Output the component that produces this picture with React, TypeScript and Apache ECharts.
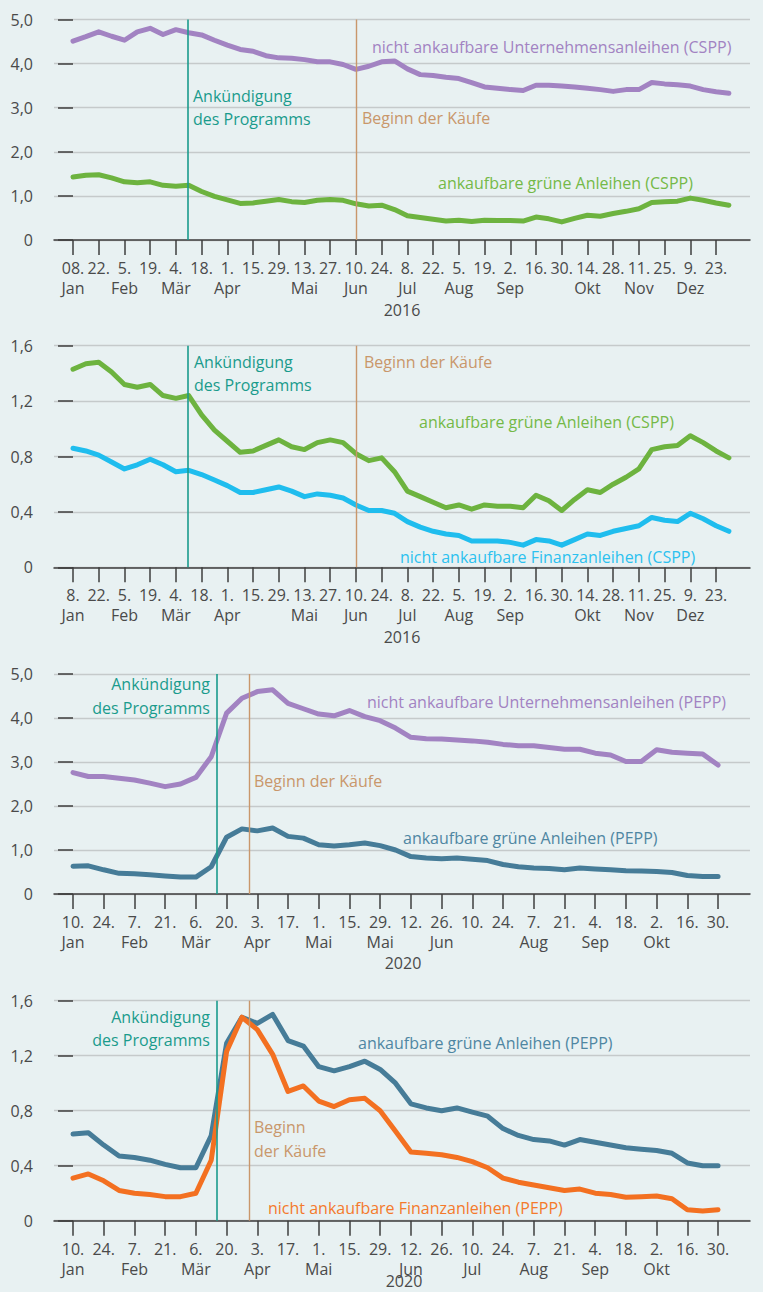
import React, { useEffect, useRef } from "react";
import * as echarts from "echarts";

// ---------- DATA ----------
// 2016: weekly observations, 8 Jan – 30 Dec (52 weeks)
const cspPurple = [4.51, 4.61, 4.72, 4.62, 4.53, 4.72, 4.80, 4.66, 4.77, 4.70, 4.65, 4.53, 4.42, 4.32, 4.28, 4.18, 4.13, 4.12, 4.09, 4.04, 4.04, 3.98, 3.87, 3.94, 4.04, 4.06, 3.88, 3.75, 3.73, 3.69, 3.66, 3.57, 3.47, 3.44, 3.41, 3.39, 3.51, 3.51, 3.49, 3.47, 3.44, 3.41, 3.37, 3.41, 3.41, 3.57, 3.54, 3.52, 3.49, 3.41, 3.36, 3.33];
const cspGreen = [1.43, 1.47, 1.48, 1.41, 1.32, 1.30, 1.32, 1.24, 1.22, 1.24, 1.10, 0.99, 0.91, 0.83, 0.84, 0.88, 0.92, 0.87, 0.85, 0.90, 0.92, 0.90, 0.82, 0.77, 0.79, 0.69, 0.55, 0.51, 0.47, 0.43, 0.45, 0.42, 0.45, 0.44, 0.44, 0.43, 0.52, 0.48, 0.41, 0.49, 0.56, 0.54, 0.60, 0.65, 0.71, 0.85, 0.87, 0.88, 0.95, 0.90, 0.84, 0.79];
const cspCyan = [0.86, 0.84, 0.81, 0.76, 0.71, 0.74, 0.78, 0.74, 0.69, 0.70, 0.67, 0.63, 0.59, 0.54, 0.54, 0.56, 0.58, 0.55, 0.51, 0.53, 0.52, 0.50, 0.45, 0.41, 0.41, 0.39, 0.33, 0.29, 0.26, 0.24, 0.23, 0.19, 0.19, 0.19, 0.18, 0.16, 0.20, 0.19, 0.16, 0.20, 0.24, 0.23, 0.26, 0.28, 0.30, 0.36, 0.34, 0.33, 0.39, 0.35, 0.30, 0.26];

// 2020: weekly observations, 10 Jan – 30 Oct (43 weeks)
const peppPurple = [2.76, 2.67, 2.67, 2.63, 2.59, 2.52, 2.44, 2.50, 2.65, 3.12, 4.11, 4.45, 4.60, 4.64, 4.33, 4.21, 4.09, 4.05, 4.17, 4.03, 3.94, 3.77, 3.56, 3.53, 3.52, 3.50, 3.48, 3.45, 3.40, 3.37, 3.37, 3.33, 3.29, 3.29, 3.20, 3.16, 3.01, 3.01, 3.28, 3.22, 3.20, 3.18, 2.93];
const peppTeal = [0.63, 0.64, 0.55, 0.47, 0.46, 0.44, 0.41, 0.385, 0.385, 0.62, 1.29, 1.48, 1.435, 1.50, 1.31, 1.27, 1.12, 1.09, 1.12, 1.16, 1.10, 1.00, 0.85, 0.82, 0.80, 0.82, 0.79, 0.76, 0.67, 0.62, 0.59, 0.58, 0.55, 0.59, 0.57, 0.55, 0.53, 0.52, 0.51, 0.49, 0.42, 0.40, 0.40];
const peppOrange = [0.31, 0.34, 0.29, 0.22, 0.20, 0.19, 0.175, 0.175, 0.20, 0.44, 1.23, 1.48, 1.39, 1.21, 0.94, 0.98, 0.87, 0.83, 0.88, 0.89, 0.80, 0.65, 0.50, 0.49, 0.48, 0.46, 0.43, 0.385, 0.31, 0.28, 0.26, 0.24, 0.22, 0.23, 0.20, 0.19, 0.17, 0.175, 0.18, 0.16, 0.08, 0.07, 0.08];

// tick labels (every two weeks)
const days2016a = ["08.", "22.", "5.", "19.", "4.", "18.", "1.", "15.", "29.", "13.", "27.", "10.", "24.", "8.", "22.", "5.", "19.", "2.", "16.", "30.", "14.", "28.", "11.", "25.", "9.", "23."];
const days2016b = ["8.", "22.", "5.", "19.", "4.", "18.", "1.", "15.", "29.", "13.", "27.", "10.", "24.", "8.", "22.", "5.", "19.", "2.", "16.", "30.", "14.", "28.", "11.", "25.", "9.", "23."];
const months2016 = ["Jan", "", "Feb", "", "Mär", "", "Apr", "", "", "Mai", "", "Jun", "", "Jul", "", "Aug", "", "Sep", "", "", "Okt", "", "Nov", "", "Dez", ""];
const days2020 = ["10.", "24.", "7.", "21.", "6.", "20.", "3.", "17.", "1.", "15.", "29.", "12.", "26.", "10.", "24.", "7.", "21.", "4.", "18.", "2.", "16.", "30."];
const months2020a = ["Jan", "", "Feb", "", "Mär", "", "Apr", "", "Mai", "", "Mai", "", "Jun", "", "", "Aug", "", "Sep", "", "Okt", "", ""];
const months2020b = ["Jan", "", "Feb", "", "Mär", "", "Apr", "", "Mai", "", "", "Jun", "", "Jul", "", "Aug", "", "Sep", "", "Okt", "", ""];

// event positions in weeks from first observation
const announce2016 = 8.89;
const start2016 = 22.0;
const announce2020 = 9.36;
const start2020 = 11.48;

// ---------- STYLE ----------
const FONT = '"Open Sans", "Noto Sans", sans-serif';
const BG = "#e8f1f2";
const C_PURPLE = "#a283c2";
const C_GREEN = "#6db33f";
const C_CYAN = "#1fbdee";
const C_TEAL = "#467c98";
const C_ORANGE = "#f37021";
const C_ANN = "#1a9b8c";
const C_START = "#c9976b";
const C_AXIS = "#3e3e3e";
const C_GRID = "#c5cacb";
const C_TEXT = "#4a4a4a";

const GRID_LEFT = 54;
const GRID_W = 696;

const panels = [
  { top: 19.5, height: 220.5, xmin: -1.477, xmax: 52.64, ymax: 5, yint: 1, days: days2016a, months: months2016, ann: announce2016, start: start2016 },
  { top: 345.7, height: 221.6, xmin: -1.477, xmax: 52.64, ymax: 1.6, yint: 0.4, days: days2016b, months: months2016, ann: announce2016, start: start2016 },
  { top: 674, height: 220, xmin: -1.237, xmax: 44.08, ymax: 5, yint: 1, days: days2020, months: months2020a, ann: announce2020, start: start2020 },
  { top: 1000.7, height: 220, xmin: -1.237, xmax: 44.08, ymax: 1.6, yint: 0.4, days: days2020, months: months2020b, ann: announce2020, start: start2020 },
];

const seriesDefs = [
  { grid: 0, data: cspPurple, color: C_PURPLE },
  { grid: 0, data: cspGreen, color: C_GREEN },
  { grid: 1, data: cspGreen, color: C_GREEN },
  { grid: 1, data: cspCyan, color: C_CYAN },
  { grid: 2, data: peppPurple, color: C_PURPLE },
  { grid: 2, data: peppTeal, color: C_TEAL },
  { grid: 3, data: peppTeal, color: C_TEAL },
  { grid: 3, data: peppOrange, color: C_ORANGE },
];

type Ann = { x: number; y: number; text: string; color: string; align?: string };
const annotations: Ann[] = [
  { x: 193, y: 96, text: "Ankündigung", color: C_ANN },
  { x: 193, y: 119, text: "des Programms", color: C_ANN },
  { x: 362, y: 118, text: "Beginn der Käufe", color: C_START },
  { x: 372, y: 47, text: "nicht ankaufbare Unternehmensanleihen (CSPP)", color: C_PURPLE },
  { x: 438, y: 183, text: "ankaufbare grüne Anleihen (CSPP)", color: "#74b947" },

  { x: 194, y: 362, text: "Ankündigung", color: C_ANN },
  { x: 194, y: 385, text: "des Programms", color: C_ANN },
  { x: 364, y: 362, text: "Beginn der Käufe", color: C_START },
  { x: 419, y: 422, text: "ankaufbare grüne Anleihen (CSPP)", color: "#74b947" },
  { x: 400, y: 557, text: "nicht ankaufbare Finanzanleihen (CSPP)", color: "#2cc1ef" },

  { x: 210, y: 684, text: "Ankündigung", color: C_ANN, align: "right" },
  { x: 210, y: 708, text: "des Programms", color: C_ANN, align: "right" },
  { x: 254, y: 781, text: "Beginn der Käufe", color: C_START },
  { x: 367, y: 702, text: "nicht ankaufbare Unternehmensanleihen (PEPP)", color: C_PURPLE },
  { x: 403, y: 838, text: "ankaufbare grüne Anleihen (PEPP)", color: "#4f86a2" },

  { x: 210, y: 1017, text: "Ankündigung", color: C_ANN, align: "right" },
  { x: 210, y: 1040, text: "des Programms", color: C_ANN, align: "right" },
  { x: 254, y: 1127, text: "Beginn", color: C_START },
  { x: 254, y: 1151, text: "der Käufe", color: C_START },
  { x: 358, y: 1043, text: "ankaufbare grüne Anleihen (PEPP)", color: "#4f86a2" },
  { x: 268, y: 1208, text: "nicht ankaufbare Finanzanleihen (PEPP)", color: "#f47a2c" },
];

const years = [
  { x: 402, y: 310, text: "2016" },
  { x: 402, y: 637, text: "2016" },
  { x: 403, y: 963, text: "2020" },
  { x: 404, y: 1281, text: "2020" },
];

function fmtY(v: number) {
  if (v === 0) return "0";
  return v.toFixed(1).replace(".", ",");
}

export default function App() {
  const ref = useRef<HTMLDivElement>(null);
  useEffect(() => {
    if (!ref.current) return;
    const chart = echarts.init(ref.current, null, { renderer: "svg" });

    const grid = panels.map((p) => ({ left: GRID_LEFT, top: p.top, width: GRID_W, height: p.height }));
    const xAxis = panels.map((p, k) => {
      const ticks = p.days.map((_, i) => i * 2);
      return {
        type: "value",
        gridIndex: k,
        min: p.xmin,
        max: p.xmax,
        axisLine: { show: true, onZero: false, lineStyle: { color: C_AXIS, width: 1.5 } },
        axisTick: { show: true, length: 15, customValues: ticks, lineStyle: { color: C_AXIS, width: 1.5 } },
        axisLabel: {
          customValues: ticks,
          margin: 18,
          fontFamily: FONT,
          fontSize: 16,
          lineHeight: 20,
          color: C_TEXT,
          formatter: (v: number) => {
            const i = Math.round(v / 2);
            const d = p.days[i] ?? "";
            const m = p.months[i] ?? "";
            return m ? d + "\n" + m : d;
          },
        },
        splitLine: { show: false },
      };
    });
    const yAxis = panels.map((p, k) => ({
      type: "value",
      gridIndex: k,
      min: 0,
      max: p.ymax,
      interval: p.yint,
      axisLine: { show: false },
      axisTick: { show: true, length: 15, lineStyle: { color: C_AXIS, width: 1.5 } },
      axisLabel: { margin: 21, fontFamily: FONT, fontSize: 16, color: C_TEXT, formatter: fmtY },
      splitLine: { show: true, lineStyle: { color: C_GRID, width: 1.3 } },
    }));

    const series: any[] = seriesDefs.map((s) => ({
      type: "line",
      xAxisIndex: s.grid,
      yAxisIndex: s.grid,
      data: s.data.map((v, i) => [i, v]),
      showSymbol: false,
      symbol: "none",
      lineStyle: { color: s.color, width: 5, cap: "round", join: "round" },
      z: 3,
    }));
    panels.forEach((p, k) => {
      series.push({
        type: "line",
        xAxisIndex: k,
        yAxisIndex: k,
        data: [],
        z: 1,
        markLine: {
          silent: true,
          symbol: "none",
          label: { show: false },
          animation: false,
          data: [
            { xAxis: p.ann, lineStyle: { color: C_ANN, width: 1.6, type: "solid" } },
            { xAxis: p.start, lineStyle: { color: C_START, width: 1.4, type: "solid" } },
          ],
        },
      });
    });

    const graphic: any[] = [];
    annotations.forEach((a) => {
      graphic.push({
        type: "text",
        x: a.x,
        y: a.y,
        silent: true,
        style: {
          text: a.text,
          fill: a.color,
          font: `16px ${FONT}`,
          textAlign: a.align || "left",
          textVerticalAlign: "middle",
        },
        z: 10,
      });
    });
    years.forEach((yv) => {
      graphic.push({
        type: "text",
        x: yv.x,
        y: yv.y,
        silent: true,
        style: { text: yv.text, fill: C_TEXT, font: `16px ${FONT}`, textAlign: "center", textVerticalAlign: "middle" },
      });
    });

    chart.setOption({
      animation: false,
      backgroundColor: BG,
      grid,
      xAxis,
      yAxis,
      series,
      graphic,
    });
    return () => chart.dispose();
  }, []);
  return (
    <div
      ref={ref}
      style={{ position: "absolute", left: 0, top: 0, width: 763, height: 1292, background: BG }}
    />
  );
}
